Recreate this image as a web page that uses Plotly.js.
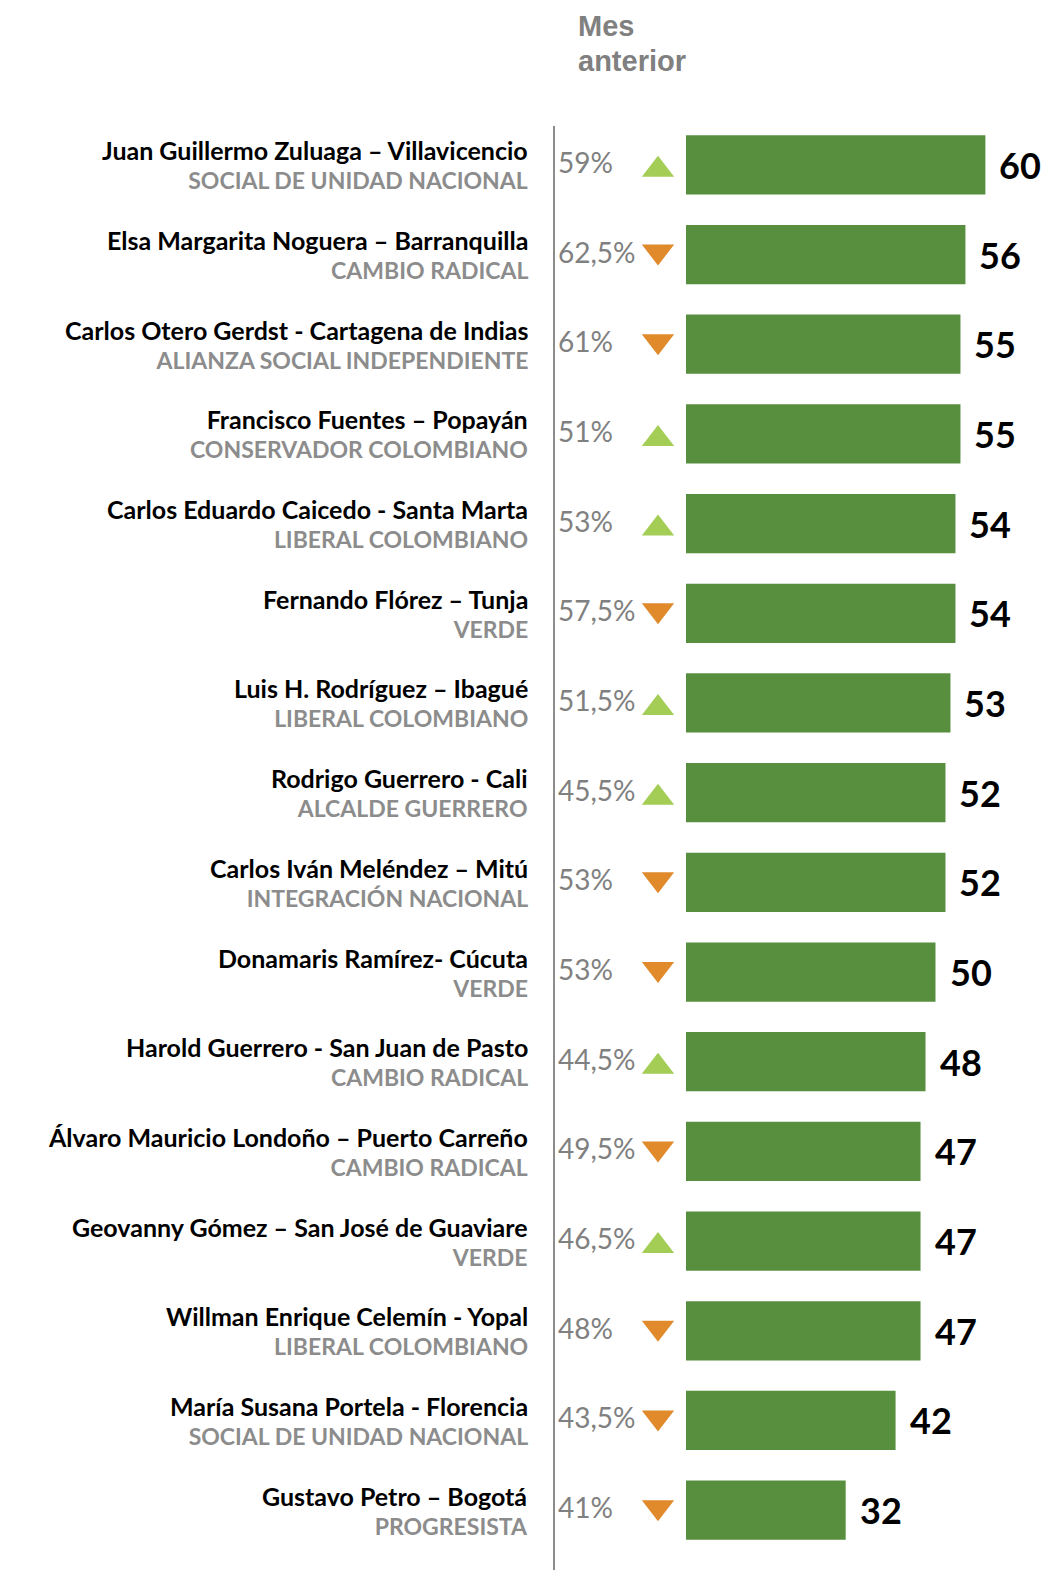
<!DOCTYPE html>
<html><head><meta charset="utf-8">
<script src="https://cdn.plot.ly/plotly-3.0.1.min.js"></script>
<style>body{margin:0;background:#fff}#chart{width:1045px;height:1570px}</style>
</head><body><div id="chart"></div>
<script>
const names = [
 "Juan Guillermo Zuluaga – Villavicencio",
 "Elsa Margarita Noguera – Barranquilla",
 "Carlos Otero Gerdst - Cartagena de Indias",
 "Francisco Fuentes – Popayán",
 "Carlos Eduardo Caicedo - Santa Marta",
 "Fernando Flórez – Tunja",
 "Luis H. Rodríguez – Ibagué",
 "Rodrigo Guerrero - Cali",
 "Carlos Iván Meléndez – Mitú",
 "Donamaris Ramírez- Cúcuta",
 "Harold Guerrero - San Juan de Pasto",
 "Álvaro Mauricio Londoño – Puerto Carreño",
 "Geovanny Gómez – San José de Guaviare",
 "Willman Enrique Celemín - Yopal",
 "María Susana Portela - Florencia",
 "Gustavo Petro – Bogotá"
];
const parties = [
 "SOCIAL DE UNIDAD NACIONAL","CAMBIO RADICAL","ALIANZA SOCIAL INDEPENDIENTE",
 "CONSERVADOR COLOMBIANO","LIBERAL COLOMBIANO","VERDE","LIBERAL COLOMBIANO",
 "ALCALDE GUERRERO","INTEGRACIÓN NACIONAL","VERDE","CAMBIO RADICAL",
 "CAMBIO RADICAL","VERDE","LIBERAL COLOMBIANO","SOCIAL DE UNIDAD NACIONAL","PROGRESISTA"
];
const values = [60,56,55,55,54,54,53,52,52,50,48,47,47,47,42,32];
const previous = [59,62.5,61,51,53,57.5,51.5,45.5,53,53,44.5,49.5,46.5,48,43.5,41];
const headerLines = ["Mes", "anterior"];

// layout constants (pixels)
const W = 1045, H = 1570, X0 = 686, T = 120, B = 15, PPU = 4.99;
const plotH = H - T - B;
const rowPx = plotH / values.length;
const pxToX = px => (px - X0) / PPU;
const pxToPaperY = py => (H - B - py) / plotH;

const rows = values.map((v, i) => i);
const green = '#578F3F', upC = '#A3CD55', downC = '#E08A2C';
const FONT = 'Lato, "Noto Sans", sans-serif';

const up = values.map((v, i) => v > previous[i]);

const traces = [
 {type:'bar', orientation:'h', x: values, y: rows, width: 0.66,
  marker:{color: green}, hoverinfo:'none', showlegend:false},
 {type:'scatter', mode:'markers', x: rows.map(() => pxToX(658)),
  y: rows.map(i => i + (up[i] ? 5 : -3) / rowPx),
  hoverinfo:'none', showlegend:false,
  marker:{symbol: up.map(u => u ? 'triangle-up' : 'triangle-down'),
          color: up.map(u => u ? upC : downC), size: 28, line:{width:0}}}
];

const ann = [];
rows.forEach(i => {
 ann.push({xref:'x', yref:'y', x: pxToX(530), y: i, yshift: 0, xanchor:'right', yanchor:'middle',
  align:'right', showarrow:false,
  text: '<span style="font-size:25px;color:#000">' + names[i] + '</span><br>' +
        '<span style="font-size:23px;color:#8C8C8C">' + parties[i] + '</span>',
  font:{family:FONT, size:22, color:'#000', weight:700}});
 ann.push({xref:'x', yref:'y', x: pxToX(556), y: i, yshift: 3, xanchor:'left', yanchor:'middle',
  text: String(previous[i]).replace('.', ',') + '%', showarrow:false, font:{family:FONT, size:28, color:'#808080'}});
 ann.push({xref:'x', yref:'y', x: values[i], y: i, xshift: 12, xanchor:'left', yanchor:'middle',
  text: String(values[i]), showarrow:false, font:{family:FONT, size:36, color:'#000', weight:700}});
});
headerLines.forEach((t, k) => {
 ann.push({xref:'x', yref:'paper', x: pxToX(576), y: pxToPaperY(26 + 35 * k), xanchor:'left', yanchor:'middle',
  text: t, showarrow:false,
  font:{family:'"Liberation Sans", Arial, sans-serif', size:29, color:'#808080', weight:700}});
});

const layout = {
 width: W, height: H, margin:{l:0, r:0, t:T, b:B, pad:0},
 paper_bgcolor:'#fff', plot_bgcolor:'#fff', showlegend:false,
 xaxis:{range:[pxToX(0), pxToX(W)], showgrid:false, zeroline:false, showticklabels:false, showline:false, fixedrange:true},
 yaxis:{range:[values.length - 0.5, -0.5], showgrid:false, zeroline:false, showticklabels:false, showline:false, fixedrange:true},
 annotations: ann,
 shapes:[{type:'line', xref:'x', yref:'paper', x0: pxToX(554), x1: pxToX(554),
   y0: pxToPaperY(126), y1: pxToPaperY(1572), line:{color:'#8C8C8C', width:2}}]
};
Plotly.newPlot('chart', traces, layout, {staticPlot:true, displayModeBar:false});
</script></body></html>
